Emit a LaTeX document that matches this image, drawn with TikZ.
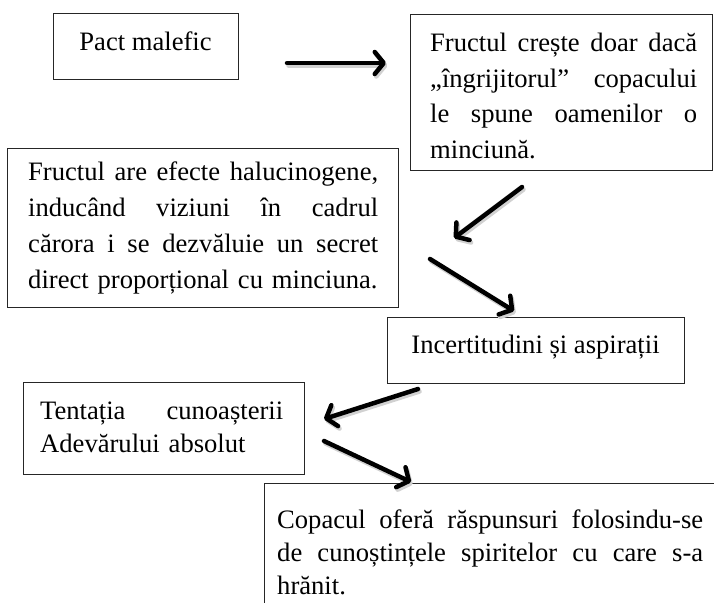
\documentclass[tikz,border=0pt]{standalone}
\usepackage{fontspec}
\setmainfont{Liberation Serif}
\usetikzlibrary{arrows.meta}
\setlength\parindent{0pt}
\newcommand{\jl}[2]{\leavevmode\hbox to #1{\spaceskip=0.25em plus 1fil\relax #2}}
\begin{document}
\begin{tikzpicture}[x=1pt,y=-1pt,
  box/.style={draw=black!85, line width=0.9pt, rectangle, inner sep=0pt, anchor=north west},
  txt/.style={inner sep=0pt, font=\fontsize{26.6}{36}\selectfont, align=left},
  arr/.style={line width=4.5pt, line cap=round, line join=round, -{Straight Barb[length=9pt,width=22pt,line cap=round,line join=round]}},
  arrshadow/.style={arr, draw=black!18}]
\useasboundingbox (0,0) rectangle (714,602);
\clip (0,0) rectangle (714,602);
% boxes
\node[box, minimum width=185pt, minimum height=66pt] (A) at (53,13) {};
\node[box, minimum width=302pt, minimum height=156pt] (B) at (410,14) {};
\node[box, minimum width=391pt, minimum height=159pt] (C) at (7,148) {};
\node[box, minimum width=297pt, minimum height=66pt] (D) at (387,317) {};
\node[box, minimum width=281pt, minimum height=92pt] (E) at (23,382) {};
\node[box, minimum width=460pt, minimum height=140pt] (F) at (264,483) {};
% texts
\node[txt, anchor=base] (tA) at (145.5,51) {Pact malefic};
\node[txt, text width=267pt, anchor=base west, font=\fontsize{26.6}{35.5}\selectfont] (tB) at (430,52)
  {\jl{267pt}{Fructul crește doar dacă}\\\jl{267pt}{„îngrijitorul” copacului}\\\jl{267pt}{le spune oamenilor o}\\minciună.};
\node[txt, text width=350pt, anchor=base west] (tC) at (28,180)
  {\jl{350pt}{Fructul are efecte halucinogene,}\\\jl{350pt}{inducând viziuni în cadrul}\\\jl{350pt}{cărora i se dezvăluie un secret}\\direct proporțional cu minciuna.};
\node[txt, anchor=base] (tD) at (535.5,353) {Incertitudini și aspirații};
\node[txt, text width=243pt, anchor=base west, font=\fontsize{26.6}{33}\selectfont] (tE) at (40,419)
  {\jl{243pt}{Tentația cunoașterii}\\Adevărului absolut};
\node[txt, text width=426pt, anchor=base west, font=\fontsize{26.6}{33}\selectfont] (tF) at (277,528)
  {\jl{426pt}{Copacul oferă răspunsuri folosindu-se}\\\jl{426pt}{de cunoștințele spiritelor cu care s-a}\\hrănit.};
% arrow end points
\coordinate (a1s) at (287,63);  \coordinate (a1e) at (386,63);
\coordinate (a2s) at (522,187); \coordinate (a2e) at (454,238);
\coordinate (a3s) at (430,259); \coordinate (a3e) at (514,311);
\coordinate (a4s) at (418,389); \coordinate (a4e) at (324,419);
\coordinate (a5s) at (324,441); \coordinate (a5e) at (411,482);
% shadows
\foreach \s/\e in {a1s/a1e,a2s/a2e,a3s/a3e,a4s/a4e,a5s/a5e}
  \draw[arrshadow] ([shift={(1.5,2.5)}]\s) -- ([shift={(1.5,2.5)}]\e);
% arrows
\foreach \s/\e in {a1s/a1e,a2s/a2e,a3s/a3e,a4s/a4e,a5s/a5e}
  \draw[arr] (\s) -- (\e);
\end{tikzpicture}
\end{document}
